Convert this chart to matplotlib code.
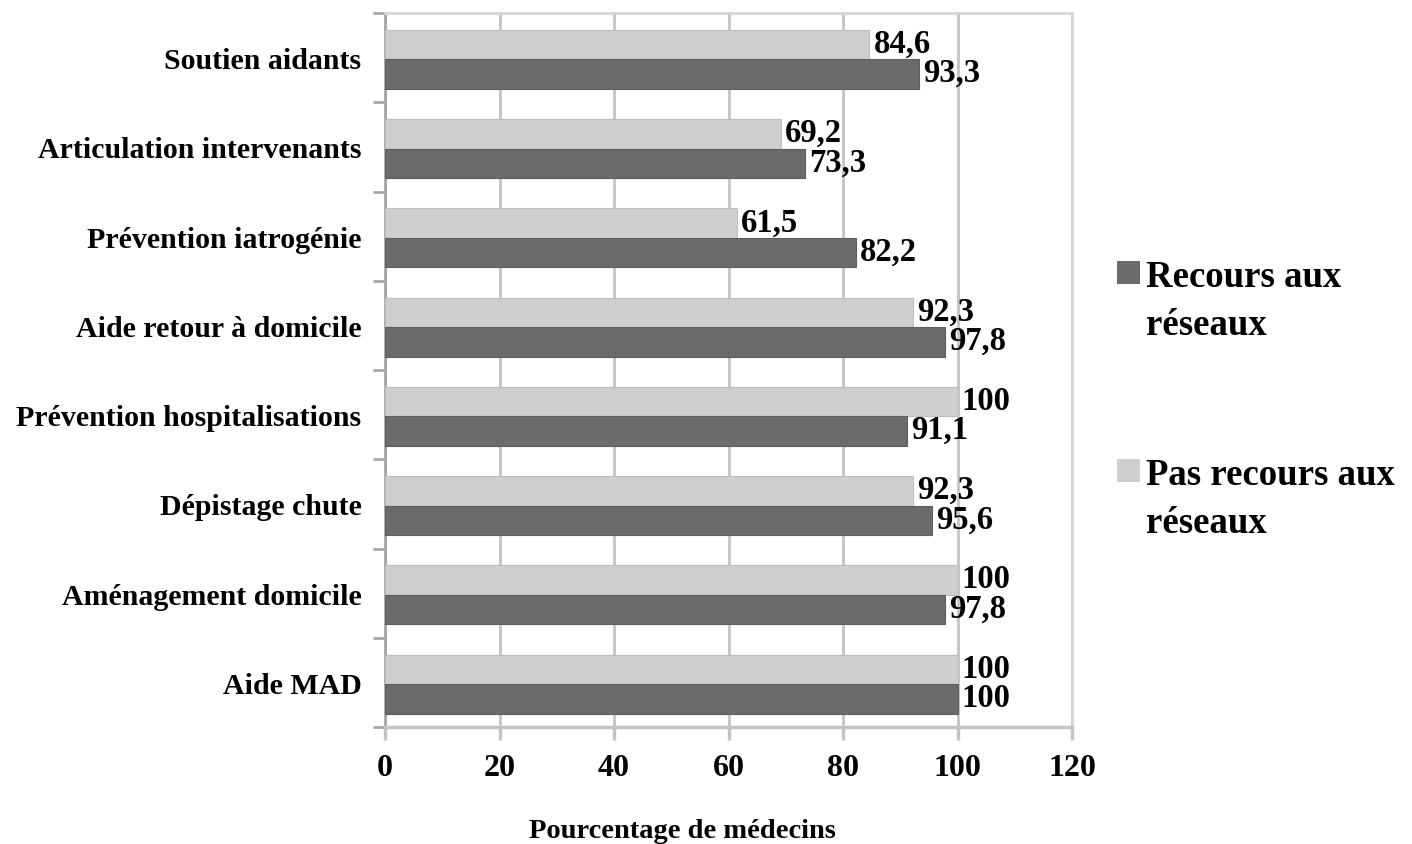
import matplotlib
matplotlib.use("Agg")
import matplotlib.pyplot as plt
from matplotlib.patches import Rectangle
import numpy as np

categories = ["Soutien aidants", "Articulation intervenants", "Prévention iatrogénie",
              "Aide retour à domicile", "Prévention hospitalisations", "Dépistage chute",
              "Aménagement domicile", "Aide MAD"]
recours = [93.3, 73.3, 82.2, 97.8, 91.1, 95.6, 97.8, 100]
pas_recours = [84.6, 69.2, 61.5, 92.3, 100, 92.3, 100, 100]
series_names = [["Recours aux", "réseaux"], ["Pas recours aux", "réseaux"]]
xticks = [0, 20, 40, 60, 80, 100, 120]

DARK = "#6b6b6b"
LIGHT = "#cfcfcf"
GRID = "#c4c4c4"

def fmt(v):
    s = ("%.1f" % v).rstrip("0").rstrip(".")
    return s.replace(".", ",")

plt.rcParams['font.family'] = ['Liberation Serif', 'DejaVu Serif']
plt.rcParams['font.weight'] = 'bold'

W, H = 1412, 845
fig = plt.figure(figsize=(W/100, H/100), dpi=100)
ax = fig.add_axes([385/W, 1-728/H, (1072-385)/W, (728-14)/H])

n = len(categories)
y = np.arange(n)[::-1] - 0.02
h = 0.33
ax.barh(y + h/2, pas_recours, height=h, color=LIGHT, edgecolor="#bdbdbd", linewidth=0.8, zorder=3)
ax.barh(y - h/2, recours, height=h, color=DARK, edgecolor="#5e5e5e", linewidth=0.8, zorder=3)

for yi, v in zip(y, pas_recours):
    ax.annotate(fmt(v), (v, yi + h/2), xytext=(3, 1), textcoords="offset points",
                ha="left", va="center", fontsize=23.5, fontweight="bold", zorder=5)
for yi, v in zip(y, recours):
    ax.annotate(fmt(v), (v, yi - h/2), xytext=(3, 1), textcoords="offset points",
                ha="left", va="center", fontsize=23.5, fontweight="bold", zorder=5)

ax.set_xlim(0, 120)
ax.set_ylim(-0.5, n - 0.5)
ax.set_xticks(xticks)
ax.set_xticklabels([str(t) for t in xticks], fontsize=23, fontweight="bold")
ax.set_yticks(np.arange(n)[::-1])
ax.set_yticklabels(categories, fontsize=21.5, fontweight="bold")
ax.set_yticks(np.arange(n + 1) - 0.5, minor=True)
ax.tick_params(axis="y", which="major", length=0, pad=17)
ax.tick_params(axis="y", which="minor", length=9, width=2, color="#a6a6a6")
ax.tick_params(axis="x", which="major", length=9, width=2.5, color=GRID, pad=10)

ax.grid(axis="x", color=GRID, linewidth=2, zorder=0)
for s in ["top", "right"]:
    ax.spines[s].set_color("#d6d6d6")
    ax.spines[s].set_linewidth(2)
ax.spines["left"].set_color("#a6a6a6")
ax.spines["left"].set_linewidth(2)
ax.spines["bottom"].set_color(GRID)
ax.spines["bottom"].set_linewidth(2.5)

fig.text(682/W, 1-838/H, "Pourcentage de médecins", fontsize=20.5, fontweight="bold",
         ha="center", va="baseline")

# legend
leg_items = [(series_names[0], DARK, 262, 287), (series_names[1], LIGHT, 460, 485)]
for lines, col, sq_top, base in leg_items:
    fig.patches.append(Rectangle((1117/W, 1-(sq_top+23)/H), 23/W, 23/H,
                                 transform=fig.transFigure, facecolor=col,
                                 edgecolor="none", figure=fig))
    for k, line in enumerate(lines):
        fig.text(1146/W, 1-(base + 48*k)/H, line, fontsize=26.5, fontweight="bold",
                 ha="left", va="baseline")

fig.savefig("out.png", dpi=100)
